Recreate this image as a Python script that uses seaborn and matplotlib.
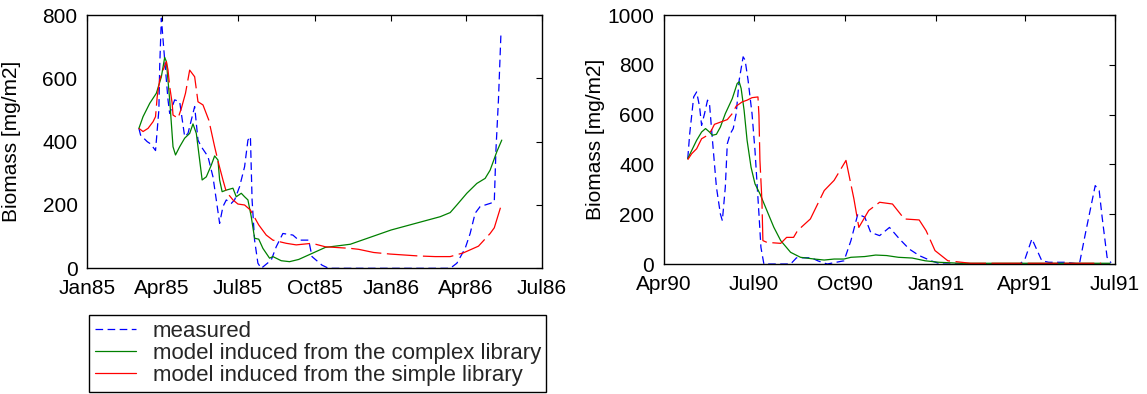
import matplotlib
matplotlib.use("Agg")
import matplotlib.pyplot as plt
import matplotlib.dates as mdates
from matplotlib.lines import Line2D
import pandas as pd
import seaborn as sns

# ---- data (days after the start date, biomass mg/m2) ----
left_start = "1985-01-01"
left_meas_days = [62, 64, 72, 76, 82, 86, 87, 89, 92, 97, 99, 105, 111, 117, 121, 129, 133, 137,
                  145, 151, 155, 159, 163, 167, 173, 177, 183, 189, 193, 196, 198, 201, 205, 209,
                  221, 227, 235, 247, 254, 266, 270, 282, 290, 436, 444, 454, 460, 466, 472, 484,
                  489, 491, 494, 497]
left_meas_vals = [442, 421, 400, 393, 372, 500, 637, 790, 690, 532, 489, 532, 526, 416, 426, 511, 405, 384,
                  353, 289, 216, 142, 195, 216, 205, 216, 258, 321, 405, 416, 216, 89, 16, 0,
                  26, 68, 110, 105, 89, 89, 37, 10, 0, 0, 16, 63, 110, 174, 195, 205,
                  210, 374, 532, 742]
left_cplx_days = [62, 67, 75, 83, 89, 93, 95, 99, 103, 106, 111, 117, 123, 127, 131, 135, 138, 143,
                  149, 153, 157, 159, 162, 167, 175, 179, 185, 189, 193, 197, 201, 206, 211, 219,
                  223, 233, 243, 254, 270, 286, 316, 365, 424, 436, 444, 456, 468, 478, 484, 492, 498]
left_cplx_vals = [442, 479, 521, 553, 605, 666, 653, 532, 384, 358, 384, 411, 426, 456, 426, 342, 279, 289,
                  326, 355, 342, 279, 242, 247, 253, 226, 237, 226, 216, 163, 95, 92, 63, 32,
                  37, 24, 21, 28, 47, 66, 76, 121, 163, 176, 200, 237, 268, 284, 310, 368, 405]
left_simp_days = [62, 67, 73, 79, 82, 84, 87, 91, 95, 97, 99, 102, 103, 109, 113, 118, 123, 129, 133,
                  139, 146, 153, 158, 163, 167, 175, 181, 189, 196, 206, 215, 223, 239, 251, 270,
                  286, 316, 326, 344, 364, 398, 418, 436, 452, 470, 484, 489, 498]
left_simp_vals = [442, 432, 442, 463, 479, 542, 595, 626, 653, 626, 574, 521, 484, 474, 505, 553, 626, 605, 526,
                  516, 468, 384, 329, 279, 242, 216, 203, 200, 184, 137, 105, 89, 79, 74, 79,
                  68, 63, 60, 50, 45, 39, 37, 37, 49, 70, 110, 128, 205]

right_start = "1990-04-01"
right_meas_days = [24, 26, 30, 33, 36, 38, 41, 44, 46, 49, 53, 57, 59, 62, 64, 67, 70, 73, 76, 80,
                   82, 85, 89, 92, 96, 98, 101, 128, 134, 149, 156, 165, 182, 189, 196, 203, 209,
                   218, 228, 238, 248, 258, 270, 280, 360, 365, 372, 382, 389, 406, 420, 426, 436,
                   440, 443, 448, 452]
right_meas_vals = [423, 523, 671, 691, 631, 557, 604, 658, 644, 497, 309, 201, 174, 309, 483, 523, 544, 604, 738, 832,
                   819, 738, 604, 456, 201, 67, 0, 0, 25, 25, 12, 0, 13, 94, 201, 188, 127,
                   114, 147, 101, 60, 34, 13, 0, 0, 20, 101, 13, 7, 7, 0, 121, 315,
                   295, 188, 27, 5]
right_cplx_days = [24, 28, 33, 38, 42, 46, 49, 53, 57, 62, 69, 74, 76, 78, 81, 84, 88, 92, 97, 104,
                   111, 118, 128, 138, 152, 162, 172, 182, 189, 203, 214, 225, 237, 251, 264, 278, 300, 451]
right_cplx_vals = [423, 456, 497, 530, 544, 530, 517, 521, 550, 604, 664, 725, 732, 705, 617, 497, 389, 322, 282, 215,
                   148, 94, 47, 27, 20, 16, 20, 20, 27, 30, 36, 34, 27, 24, 13, 7, 3, 3]
right_simp_days = [24, 28, 33, 38, 44, 48, 51, 64, 69, 73, 79, 84, 89, 95, 96, 97, 99, 100, 104, 118,
                   124, 131, 135, 148, 162, 172, 184, 192, 197, 207, 218, 231, 243, 258, 265, 274, 287, 310, 442]
right_simp_vals = [419, 443, 463, 503, 517, 537, 561, 580, 604, 634, 651, 658, 668, 671, 597, 416, 255, 94, 87, 83,
                   107, 107, 134, 181, 295, 336, 416, 262, 147, 215, 248, 241, 181, 177, 134, 54, 13, 3, 3]

legend_labels = ["measured",
                 "model induced from the complex library",
                 "model induced from the simple library"]


def to_frame(start, days, vals):
    dates = pd.to_datetime(start) + pd.to_timedelta(days, unit="D")
    return pd.DataFrame({"date": dates, "biomass": vals})


sns.set_theme(style="white")
plt.rcParams["font.family"] = ["Liberation Sans", "DejaVu Sans"]
plt.rcParams["lines.scale_dashes"] = False

fig = plt.figure(figsize=(11.47, 3.94), dpi=100)
ax1 = fig.add_axes([0.0761, 0.319, 0.3962, 0.6429])
ax2 = fig.add_axes([0.5789, 0.3299, 0.3932, 0.632])

blue, green, red = "#0000ff", "#008000", "#ff0000"
meas_dash = (0, (5.5, 3.2))
simp_dash = (0, (22, 4))


def draw(ax, start, md, mv, cd, cv, sd, sv):
    sns.lineplot(data=to_frame(start, md, mv), x="date", y="biomass", ax=ax, color=blue,
                 linewidth=0.9, linestyle=meas_dash, estimator=None)
    sns.lineplot(data=to_frame(start, cd, cv), x="date", y="biomass", ax=ax, color=green,
                 linewidth=0.9, estimator=None)
    sns.lineplot(data=to_frame(start, sd, sv), x="date", y="biomass", ax=ax, color=red,
                 linewidth=0.9, linestyle=simp_dash, estimator=None)
    ax.xaxis.set_major_locator(mdates.MonthLocator(bymonth=[1, 4, 7, 10]))
    ax.xaxis.set_major_formatter(mdates.DateFormatter("%b%y"))
    ax.set_xlabel("")
    ax.set_ylabel("Biomass [mg/m2]", fontsize=15, color="black")
    ax.tick_params(direction="in", top=True, right=True, length=4, width=0.8,
                   labelsize=15, colors="black")
    ax.tick_params(axis="x", pad=8)
    ax.tick_params(axis="y", pad=7)
    for s in ax.spines.values():
        s.set_visible(True)
        s.set_color("black")
        s.set_linewidth(1.0)


draw(ax1, left_start, left_meas_days, left_meas_vals, left_cplx_days, left_cplx_vals,
     left_simp_days, left_simp_vals)
ax1.set_xlim(pd.Timestamp("1985-01-01"), pd.Timestamp("1986-07-01"))
ax1.set_ylim(0, 800)
ax1.set_yticks([0, 200, 400, 600, 800])
ax1.yaxis.set_label_coords(-0.146, 0.5)

draw(ax2, right_start, right_meas_days, right_meas_vals, right_cplx_days, right_cplx_vals,
     right_simp_days, right_simp_vals)
ax2.set_xlim(pd.Timestamp("1990-04-01"), pd.Timestamp("1991-07-01"))
ax2.set_ylim(0, 1000)
ax2.set_yticks([0, 200, 400, 600, 800, 1000])
ax2.yaxis.set_label_coords(-0.131, 0.5)

handles = [Line2D([], [], color=blue, lw=0.9, linestyle=meas_dash),
           Line2D([], [], color=green, lw=0.9),
           Line2D([], [], color=red, lw=0.9)]
leg = fig.legend(handles, legend_labels, loc="upper left", bbox_to_anchor=(0.0779, 0.2005),
                 fontsize=16, frameon=True, fancybox=False, framealpha=1, borderaxespad=0,
                 handlelength=1.85, handletextpad=0.75, borderpad=0.25, labelspacing=0.06)
leg.get_frame().set_edgecolor("black")
leg.get_frame().set_linewidth(1.0)

fig.savefig("out.png", dpi=100)
